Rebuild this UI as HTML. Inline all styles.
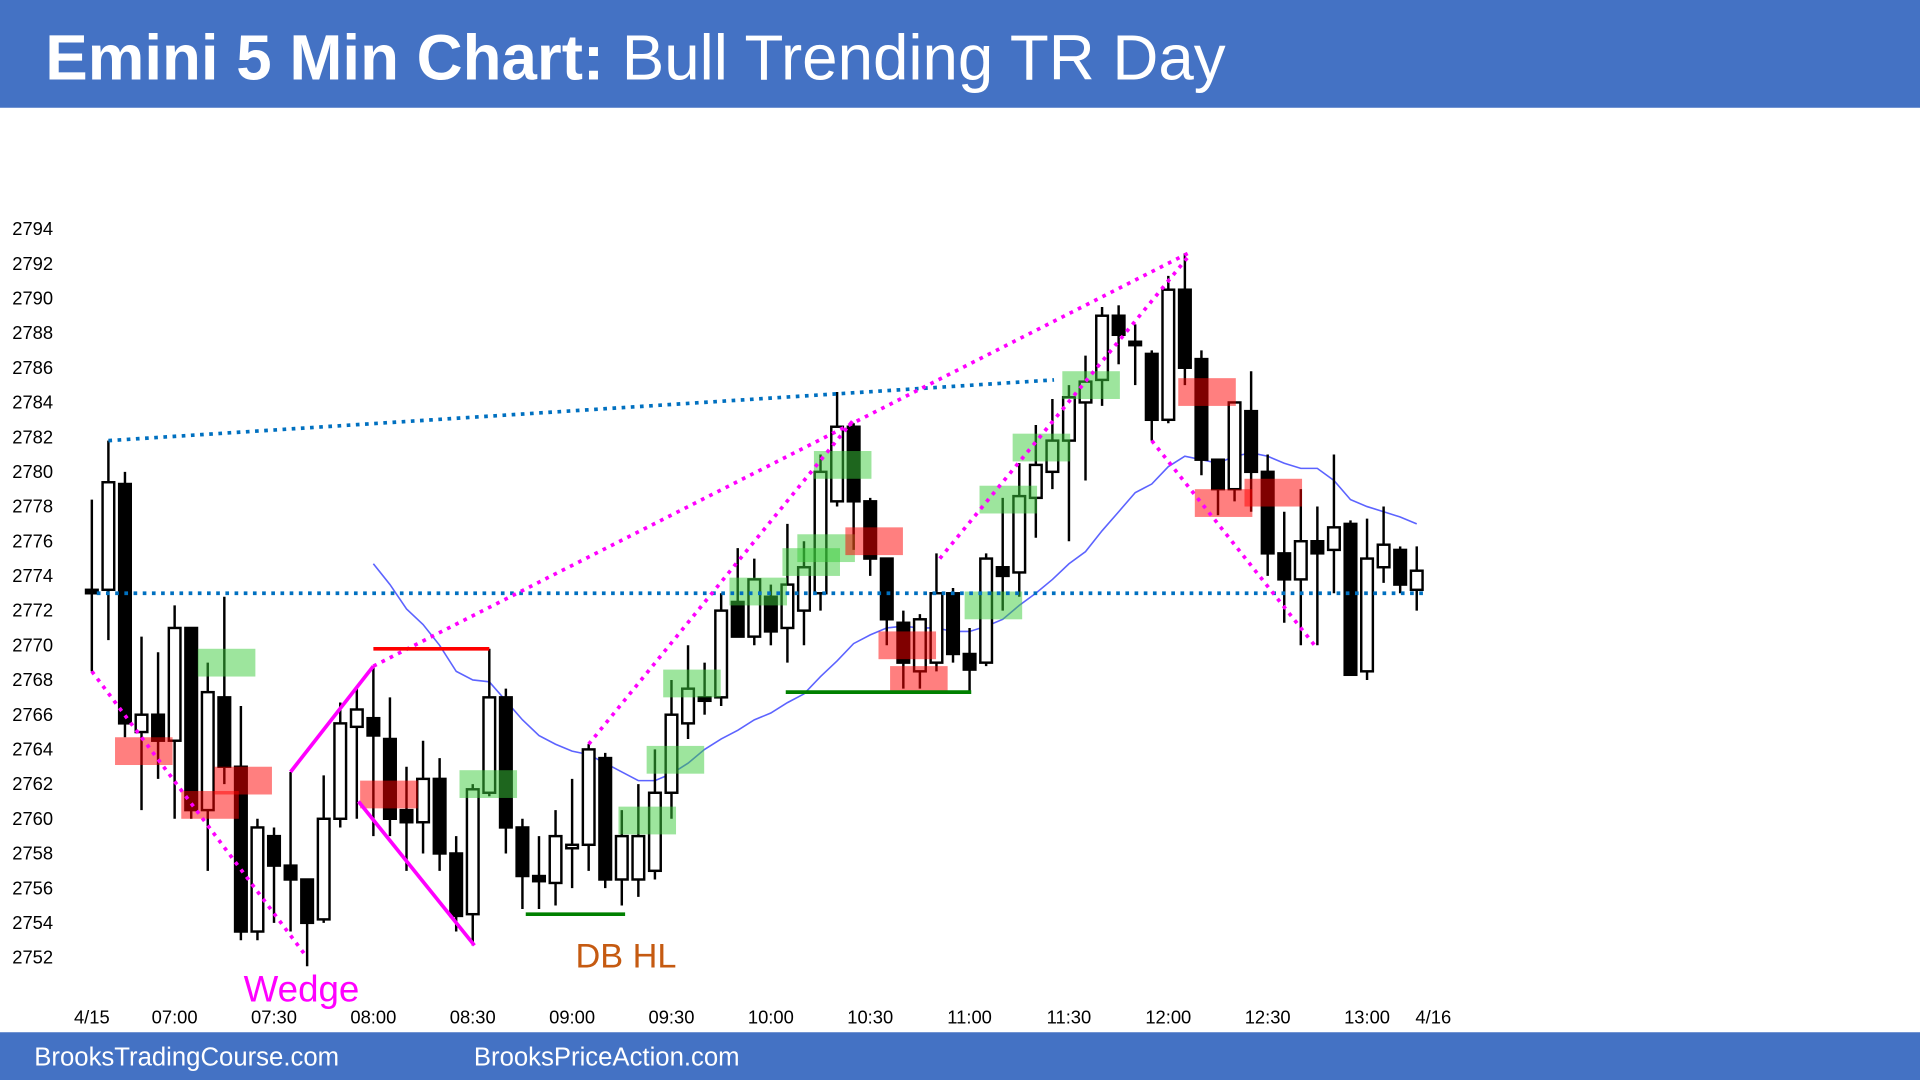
<!DOCTYPE html>
<html><head><meta charset="utf-8"><style>
html,body{margin:0;padding:0;background:#fff;}
svg{display:block;font-family:"Liberation Sans",Arial,sans-serif;}
</style></head><body>
<svg id="chart" width="1920" height="1080" viewBox="0 0 1568 882" xmlns="http://www.w3.org/2000/svg">
<rect x="0" y="0" width="1568" height="88" fill="#4472c4"/>
<text x="37" y="65" fill="#fff" font-size="52"><tspan font-weight="bold">Emini 5 Min Chart:</tspan> Bull Trending TR Day</text>
<rect x="0" y="843" width="1568" height="39" fill="#4472c4"/>
<text x="28" y="870" fill="#fff" font-size="21">BrooksTradingCourse.com</text>
<text x="387" y="870" fill="#fff" font-size="21">BrooksPriceAction.com</text>
<g id="plot"></g>
</svg>
<script>
const opens=[2773.2,2773.2,2779.3,2765,2766,2764.5,2771,2760.5,2767,2763,2753.5,2759,2757.3,2756.5,2754.2,2760,2765.3,2765.8,2764.6,2760.5,2759.8,2762.3,2758,2754.5,2761.5,2767,2759.5,2756.7,2756.3,2758.3,2758.5,2763.5,2756.5,2756.5,2757,2761.5,2765.5,2767,2767,2772.5,2770.5,2772.8,2771,2772,2773,2778.3,2782.6,2778.3,2775,2771.3,2768.5,2769,2773,2769.5,2769,2774.5,2774.2,2778.5,2780,2781.8,2784,2785.3,2789,2787.5,2786.8,2783,2790.5,2786.5,2780.7,2779,2783.5,2780,2775.3,2773.8,2776,2775.5,2777,2768.5,2774.5,2775.5,2773.2];
const closes=[2773,2779.4,2765.5,2766,2764.5,2771,2760.5,2767.3,2763,2753.5,2759.5,2757.3,2756.5,2754,2760,2765.5,2766.3,2764.8,2760,2759.8,2762.3,2758,2754.4,2761.7,2767,2759.5,2756.7,2756.4,2759,2758.5,2764,2756.5,2759,2759,2761.5,2766,2767.5,2766.8,2772,2770.5,2773.8,2770.8,2773.5,2774.5,2780,2782.6,2778.3,2775,2771.5,2769,2771.5,2773,2769.5,2768.6,2775,2774,2778.6,2780.4,2781.8,2784.3,2785.2,2789,2787.9,2787.3,2783,2790.5,2786,2780.7,2779,2784,2780,2775.3,2773.8,2776,2775.3,2776.8,2768.3,2775,2775.8,2773.5,2774.3];
const highs=[2778.4,2781.8,2780,2770.5,2769.6,2772.3,2771,2769,2772.8,2766.5,2760,2759.5,2762.7,2756.5,2762.5,2766.7,2767.5,2768.8,2767,2763,2764.5,2763.5,2759,2762,2769.8,2767.5,2760,2759,2760.5,2762.3,2764.3,2763.8,2760.5,2762,2764,2768,2770,2769,2773,2775.6,2775,2773.5,2777,2776,2781,2784.6,2782.8,2778.5,2775,2772,2771.8,2775.3,2773.3,2771,2775.3,2778.5,2780.5,2782.7,2784.2,2785,2786.7,2789.5,2789.6,2788.5,2787,2791.3,2792.6,2787,2780.7,2784,2785.8,2781,2777.7,2779,2778,2781,2777.2,2777.3,2778,2775.7,2775.7];
const lows=[2768.5,2770.3,2764.7,2760.5,2762.3,2760,2760,2757,2762,2753,2753,2754,2753.5,2751.5,2754,2759.5,2760,2759,2759,2757,2758,2757,2753.5,2752.7,2761.3,2758,2754.8,2754.8,2755,2756,2757,2756,2755,2755.5,2756.5,2760,2764.6,2766,2766.5,2770.5,2770,2770,2769,2770,2772,2778,2775.5,2774,2770,2767.5,2767.5,2768.5,2769,2767.3,2768.8,2772,2772.8,2776.2,2779,2776,2779.5,2783.8,2786.2,2785,2781.8,2782.8,2785,2779.8,2777.5,2778.3,2777.7,2774,2771.3,2770,2770,2773,2768.3,2768,2773.6,2773,2772];
const emaStart=17;
const emaValues=[2774.7,2773.5,2772.1,2771.2,2770.0,2768.5,2768.0,2767.9,2766.8,2765.7,2764.8,2764.3,2763.9,2763.7,2763.2,2762.7,2762.2,2762.2,2762.6,2763.2,2764.0,2764.6,2765.1,2765.7,2766.1,2766.7,2767.2,2768.2,2769.1,2770.1,2770.6,2771.0,2771.1,2771.0,2771.0,2770.8,2770.8,2771.1,2771.5,2772.3,2773.0,2773.8,2774.7,2775.4,2776.6,2777.7,2778.8,2779.3,2780.3,2780.9,2780.7,2780.5,2780.9,2781.1,2780.9,2780.5,2780.2,2780.2,2779.5,2778.4,2778.0,2777.7,2777.4,2777.0];
const yTicks=[2794,2792,2790,2788,2786,2784,2782,2780,2778,2776,2774,2772,2770,2768,2766,2764,2762,2760,2758,2756,2754,2752];
const xTickLabels=["4/15","07:00","07:30","08:00","08:30","09:00","09:30","10:00","10:30","11:00","11:30","12:00","12:30","13:00","4/16"];
const xTickBars=[0,5,11,17,23,29,35,41,47,53,59,65,71,77,81];

const NS="http://www.w3.org/2000/svg";
const plot=document.getElementById('plot');
function xs(i){return 75+i*13.525;}
function ys(p){return 187+(2794-p)*14.1667;}
function mk(tag,attrs,parent){const e=document.createElementNS(NS,tag);for(const k in attrs)e.setAttribute(k,attrs[k]);(parent||plot).appendChild(e);return e;}

yTicks.forEach(v=>{const t=mk('text',{x:10,y:ys(v)+5,'font-size':15,fill:'#000'});t.textContent=v;

});
xTickLabels.forEach((s,k)=>{const t=mk('text',{x:xs(xTickBars[k]),y:836,'font-size':15,fill:'#000','text-anchor':'middle'});t.textContent=s;

});

const greens=[[6.4,2769.8,2768.2],[22.2,2762.8,2761.2],[34.5,2768.6,2767],[33.5,2764.2,2762.6],[31.8,2760.7,2759.1],[38.5,2773.9,2772.3],[41.7,2775.6,2774],[42.6,2776.4,2774.8],[43.6,2781.2,2779.6],[52.7,2773.1,2771.5],[53.6,2779.2,2777.6],[55.6,2782.2,2780.6],[58.6,2785.8,2784.2]];
const reds=[[1.4,2764.7,2763.1],[5.4,2761.6,2760],[7.4,2763,2761.4],[16.2,2762.2,2760.6],[45.5,2776.8,2775.2],[47.5,2770.8,2769.2],[48.2,2768.8,2767.2],[65.6,2785.4,2783.8],[66.6,2779,2777.4],[69.6,2779.6,2778]];
const lines=[
 {a:[1,2781.8],b:[58.1,2785.3],c:'#0070c0',w:3,d:'3 4.5',n:'resistance-trendline'},
 {a:[0.3,2773],b:[80.7,2773],c:'#0070c0',w:3,d:'3 4.5',n:'open-price-line'},
 {a:[0,2768.5],b:[13,2752],c:'#ff00ff',w:3,d:'3 4.5',n:'wedge-channel-line'},
 {a:[12,2762.7],b:[17,2768.8],c:'#ff00ff',w:3,d:null,n:'wedge-leg-line'},
 {a:[17,2768.8],b:[66.4,2792.7],c:'#ff00ff',w:3,d:'3 4.5',n:'wedge-top-trendline'},
 {a:[16.1,2761],b:[23.1,2752.7],c:'#ff00ff',w:3,d:null,n:'pullback-leg-line'},
 {a:[30,2764.3],b:[46,2783],c:'#ff00ff',w:3,d:'3 4.5',n:'bull-channel-line-1'},
 {a:[51.2,2775],b:[66.2,2792.4],c:'#ff00ff',w:3,d:'3 4.5',n:'bull-channel-line-2'},
 {a:[64,2781.8],b:[74,2769.8],c:'#ff00ff',w:3,d:'3 4.5',n:'bear-channel-line'},
 {a:[17,2769.8],b:[24,2769.8],c:'#ff0000',w:3,d:null,n:'double-top-line'},
 {a:[26.2,2754.5],b:[32.2,2754.5],c:'#008000',w:3,d:null,n:'double-bottom-line'},
 {a:[41.9,2767.3],b:[53.1,2767.3],c:'#008000',w:3,d:null,n:'higher-low-line'}
];

let pts=emaValues.map((v,k)=>xs(emaStart+k).toFixed(1)+','+ys(v).toFixed(1)).join(' ');
const ema=mk('polyline',{points:pts,fill:'none',stroke:'#3f48ff','stroke-width':1.3,opacity:0.85});



const bw=9.5;
for(let i=0;i<opens.length;i++){
 const g=mk('g',{});
 
 
 const x=xs(i),o=opens[i],c=closes[i];
 mk('line',{x1:x,x2:x,y1:ys(highs[i]),y2:ys(lows[i]),stroke:'#000','stroke-width':2},g);
 const top=ys(Math.max(o,c)),bot=ys(Math.min(o,c));
 mk('rect',{x:x-bw/2,y:top,width:bw,height:Math.max(bot-top,1.5),fill:c>=o?'#fff':'#000',stroke:'#000','stroke-width':2},g);
}
greens.forEach(r=>{const e=mk('rect',{x:xs(r[0]),y:ys(r[1]),width:47,height:ys(r[2])-ys(r[1]),fill:'#3ccc3c','fill-opacity':0.5});

});
reds.forEach(r=>{const e=mk('rect',{x:xs(r[0]),y:ys(r[1]),width:47,height:ys(r[2])-ys(r[1]),fill:'#ff0000','fill-opacity':0.5});

});
lines.forEach(L=>{const at={x1:xs(L.a[0]),y1:ys(L.a[1]),x2:xs(L.b[0]),y2:ys(L.b[1]),stroke:L.c,'stroke-width':L.w};if(L.d)at['stroke-dasharray']=L.d;const e=mk('line',at);

});

const w=mk('text',{x:199,y:818,'font-size':30,fill:'#ff00ff'});w.textContent='Wedge';


const d=mk('text',{x:470,y:790,'font-size':28,fill:'#c55a11'});d.textContent='DB HL';


</script>
</body></html>
